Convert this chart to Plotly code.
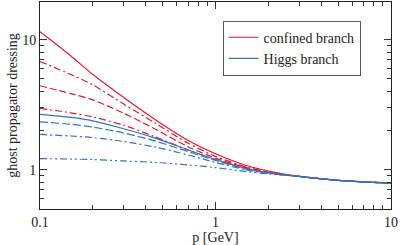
import plotly.graph_objects as go

p = [0.1, 0.15, 0.2, 0.3, 0.45, 0.7, 1.0, 1.5, 2.0, 3.0, 5.0, 10.0]

red_solid   = [11.5, 7.5, 5.4, 3.6, 2.45, 1.68, 1.33, 1.08, 0.98, 0.89, 0.83, 0.79]
red_dd1     = [6.8, 5.4, 4.5, 3.2, 2.3, 1.6, 1.27, 1.05, 0.96, 0.89, 0.83, 0.79]
red_dash    = [4.43, 3.85, 3.45, 2.72, 2.07, 1.5, 1.23, 1.04, 0.96, 0.89, 0.83, 0.79]
red_dd2     = [2.97, 2.74, 2.55, 2.2, 1.80, 1.42, 1.2, 1.03, 0.95, 0.89, 0.83, 0.79]
blue_solid  = [2.67, 2.53, 2.38, 2.07, 1.76, 1.42, 1.2, 1.02, 0.95, 0.89, 0.83, 0.79]
blue_dash   = [2.34, 2.24, 2.13, 1.92, 1.67, 1.38, 1.18, 1.01, 0.95, 0.89, 0.83, 0.79]
blue_dd     = [1.87, 1.82, 1.77, 1.65, 1.50, 1.30, 1.14, 1.0, 0.94, 0.89, 0.83, 0.79]
blue_ddd    = [1.22, 1.21, 1.2, 1.17, 1.14, 1.09, 1.04, 0.97, 0.93, 0.89, 0.83, 0.79]

RED = "#e8192c"
BLUE = "#2f74c0"

series = [
    (red_solid, RED, "solid", "confined branch", True),
    (red_dd1, RED, "7px,3px,2px,3px", None, False),
    (red_dash, RED, "7px,3px", None, False),
    (red_dd2, RED, "7px,3px,2px,3px", None, False),
    (blue_solid, BLUE, "solid", "Higgs branch", True),
    (blue_dash, BLUE, "8px,3px", None, False),
    (blue_dd, BLUE, "7px,3px,2px,3px", None, False),
    (blue_ddd, BLUE, "7px,3px,2px,3px,2px,3px", None, False),
]

fig = go.Figure()
for ys, col, dash, name, show in series:
    fig.add_trace(go.Scatter(
        x=p, y=ys, mode="lines", line=dict(color=col, width=1.2, dash=dash, shape="spline", smoothing=0.8),
        name=name, showlegend=show))

minor_y = [0.5, 0.6, 0.7, 0.8, 0.9, 2, 3, 4, 5, 6, 7, 8, 9, 20]
minor_x = [0.2, 0.3, 0.4, 0.5, 0.6, 0.7, 0.8, 0.9, 2, 3, 4, 5, 6, 7, 8, 9]

FAM = "Liberation Serif, Times New Roman, DejaVu Serif, serif"
font = dict(family=FAM, size=14, color="#222")

fig.update_layout(
    width=400, height=245,
    margin=dict(l=40, r=9, t=2, b=36, autoexpand=False),
    paper_bgcolor="white", plot_bgcolor="white",
    font=font,
    legend=dict(x=0.52, y=0.91, xanchor="left", yanchor="top",
                bordercolor="#555", borderwidth=1, bgcolor="white",
                font=dict(family=FAM, size=14, color="#222"),
                tracegroupgap=0, itemwidth=30),
    xaxis=dict(type="log", range=[-1, 1], tickmode="array", tickvals=[0.1, 1, 10],
               ticktext=["0.1", "1", "10"], ticks="inside", ticklen=7, tickcolor="#333",
               showline=True, linecolor="#222", linewidth=1, mirror="allticks",
               showgrid=False, zeroline=False, automargin=False,
               minor=dict(tickvals=minor_x, ticks="inside", ticklen=4, tickcolor="#333", showgrid=False),
               title=dict(text="p [GeV]", standoff=2, font=font)),
    yaxis=dict(type="log", range=[-0.301, 1.29], tickmode="array", tickvals=[1, 10],
               ticktext=["1", "10"], ticks="inside", ticklen=7, tickcolor="#333",
               showline=True, linecolor="#222", linewidth=1, mirror="allticks",
               showgrid=False, zeroline=False, automargin=False,
               minor=dict(tickvals=minor_y, ticks="inside", ticklen=4, tickcolor="#333", showgrid=False),
               title=dict(text="ghost propagator dressing", standoff=1, font=font)),
)

fig.write_html("out.html", config={"displayModeBar": False},
               post_script="document.body.style.margin='0';")
